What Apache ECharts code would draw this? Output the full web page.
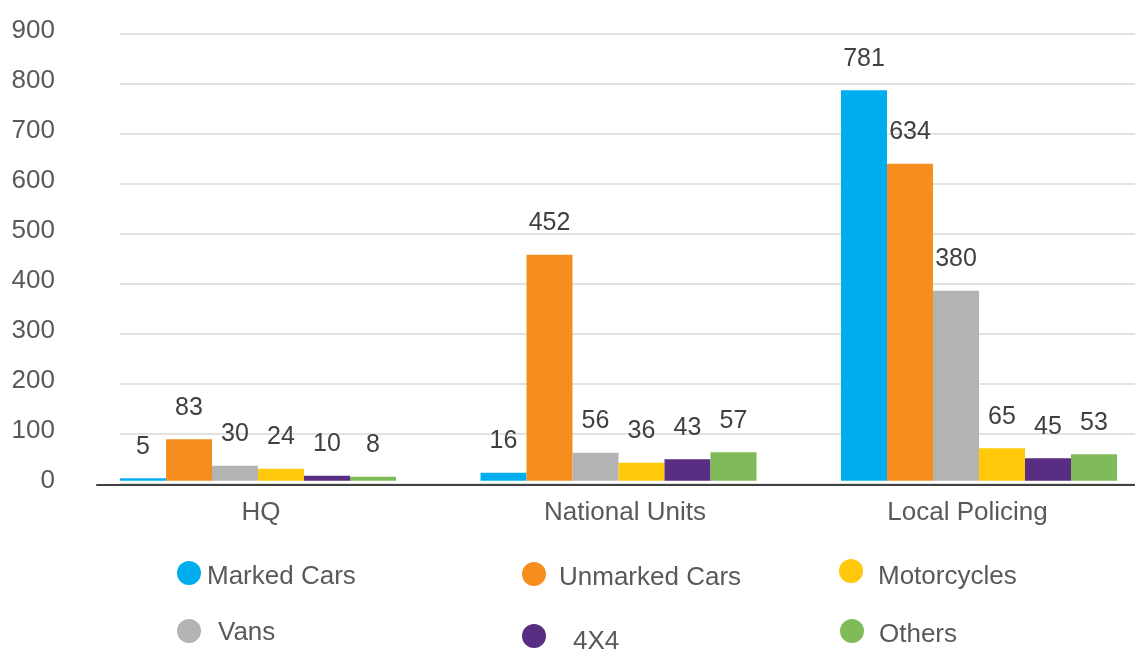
<!DOCTYPE html>
<html>
<head>
<meta charset="utf-8">
<script src="https://cdn.jsdelivr.net/npm/echarts@6/dist/echarts.min.js"></script>
<style>
html,body{margin:0;padding:0;background:#fff;}
#chart{width:1135px;height:649px;}
</style>
</head>
<body>
<div id="chart"></div>
<script>
// ---- data ----
const categories = ['HQ', 'National Units', 'Local Policing'];
const seriesNames = ['Marked Cars', 'Unmarked Cars', 'Vans', 'Motorcycles', '4X4', 'Others'];
const markedCars = [5, 16, 781];
const unmarkedCars = [83, 452, 634];
const vans = [30, 56, 380];
const motorcycles = [24, 36, 65];
const fourByFour = [10, 43, 45];
const others = [8, 57, 53];
const yMin = 0, yMax = 900, yInterval = 100;

// ---- styles ----
const FONT = "'Liberation Sans', Arial, Helvetica, sans-serif";
const colors = ['#00AEEF', '#F68E1F', '#B3B3B3', '#FFC80B', '#582D82', '#80BB5A'];
const seriesValues = [markedCars, unmarkedCars, vans, motorcycles, fourByFour, others];
const catPadding = [[0, 0, 0, 6], [0, 0, 0, 13], [0, 23, 0, 0]];

// legend placement per series: [left, top, text left padding, text top padding]
const legendPos = [
  [177, 561, 1, 4],    // Marked Cars
  [522, 562, 8, 4],    // Unmarked Cars
  [177, 619, 12, 2],   // Vans
  [839, 559, 10, 6],   // Motorcycles
  [522, 624, 22, 6],   // 4X4
  [840, 619, 10, 4]    // Others
];

const chart = echarts.init(document.getElementById('chart'), null, {renderer: 'canvas'});

const option = {
  animation: false,
  color: colors,
  textStyle: {fontFamily: FONT},
  grid: [
    {left: 77.75, right: -24.25, top: 30.8, bottom: 168.2,
     outerBoundsMode: 'none', containLabel: false},           // data
    {left: 120, right: 0, top: 33.3, bottom: 165.7, outerBoundsMode: 'none'},  // gridlines
    {left: 97, right: 0, top: 33.3, bottom: 164.5, outerBoundsMode: 'none'}    // base axis line
  ],
  xAxis: [
    {
      gridIndex: 0, type: 'category',
      data: categories.map((c, i) => ({value: c, textStyle: {padding: catPadding[i]}})),
      axisLine: {show: false}, axisTick: {show: false},
      axisLabel: {fontSize: 26, color: '#595959', margin: 19, fontFamily: FONT}
    },
    {gridIndex: 1, type: 'category', data: categories, show: false},
    {
      gridIndex: 2, type: 'category', data: categories,
      axisLine: {show: true, lineStyle: {color: '#404040', width: 2}},
      axisTick: {show: false}, axisLabel: {show: false}
    }
  ],
  yAxis: [
    {
      gridIndex: 0, type: 'value', min: yMin, max: yMax, interval: yInterval,
      axisLine: {show: false}, axisTick: {show: false}, splitLine: {show: false},
      axisLabel: {fontSize: 26, color: '#595959', margin: 22.75, padding: [0, 0, 2, 0], fontFamily: FONT}
    },
    {
      gridIndex: 1, type: 'value', min: yMin, max: yMax, interval: yInterval,
      axisLine: {show: false}, axisTick: {show: false}, axisLabel: {show: false},
      splitLine: {show: true, lineStyle: {color: '#E2E2E2', width: 2}}
    },
    {gridIndex: 2, type: 'value', min: yMin, max: yMax, interval: yInterval, show: false}
  ],
  legend: seriesNames.map((name, i) => ({
    data: [name],
    left: legendPos[i][0], top: legendPos[i][1],
    padding: 0,
    icon: 'circle', itemWidth: 24, itemHeight: 24,
    selectedMode: false,
    formatter: '{t|{name}}',
    textStyle: {
      fontSize: 26, color: '#595959', fontFamily: FONT,
      padding: [0, 0, 0, legendPos[i][2]],
      rich: {t: {fontSize: 26, color: '#595959', fontFamily: FONT,
                 padding: [legendPos[i][3] * 2, 0, 0, 0]}}
    }
  })),
  series: seriesNames.map((name, i) => ({
    name: name, type: 'bar',
    xAxisIndex: 0, yAxisIndex: 0,
    data: seriesValues[i],
    barWidth: 46, barGap: '0%',
    itemStyle: {color: colors[i]},
    label: {
      show: true, position: 'top', distance: 19,
      fontSize: 25, color: '#404040', fontFamily: FONT
    }
  }))
};
chart.setOption(option);
</script>
</body>
</html>
